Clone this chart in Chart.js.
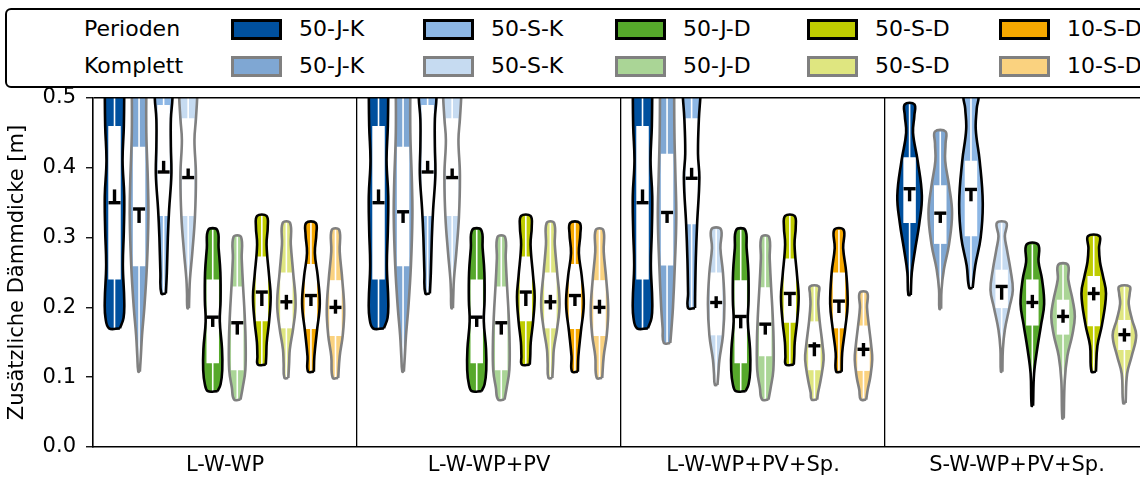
<!DOCTYPE html>
<html>
<head>
<meta charset="utf-8">
<script src="https://cdn.jsdelivr.net/npm/chart.js@4.4.1/dist/chart.umd.min.js"></script>
<style>
  html, body { margin: 0; padding: 0; background: #fff; overflow: hidden; width: 1140px; height: 481px; }
  #chart { position: absolute; left: 0; top: 0; }
  #legend { position: absolute; left: 5px; top: 8px; width: 1170px; height: 76px; border: 2px solid #000; border-radius: 6px;
            font-family: 'DejaVu Sans'; font-size: 22px; color: #000; background: #fff; z-index: 2; }
  #legend .lab { position: absolute; line-height: 22px; white-space: nowrap; }
  #legend .sw { position: absolute; width: 45px; height: 15px; border: 3px solid #000; }
</style>
</head>
<body>
<div id="legend"></div>
<canvas id="chart" width="1160" height="481"></canvas>
<script>
// Kategorien und Serien
const groups = ['L-W-WP', 'L-W-WP+PV', 'L-W-WP+PV+Sp.', 'S-W-WP+PV+Sp.'];
const series = ['50-J-K', '50-S-K', '50-J-D', '50-S-D', '10-S-D'];
const variants = ['Perioden', 'Komplett'];
const colP = ['#00509e', '#8db7e5', '#56a82b', '#bfcc00', '#f6a800'];
const colK = ['#7fa7d3', '#c6dbf1', '#aad596', '#dfe680', '#fad27f'];
const yTicks = [0, 0.1, 0.2, 0.3, 0.4, 0.5];

// Violinen je Gruppe, Reihenfolge: Serie P, Serie K, ...
// Profil: [Wert, relative Breite]
const profiles = [
  [
    [[0.17,0.55],[0.185,0.92],[0.21,0.99],[0.26,0.85],[0.31,0.95],[0.36,0.99],[0.41,0.82],[0.46,0.95],[0.52,0.99],[0.56,0.95]],
    [[0.108,0.08],[0.13,0.18],[0.16,0.3],[0.2,0.54],[0.26,0.8],[0.33,0.95],[0.38,0.9],[0.45,0.74],[0.52,0.74],[0.56,0.74]],
    [[0.22,0.23],[0.25,0.33],[0.30,0.43],[0.34,0.56],[0.39,0.79],[0.43,0.74],[0.47,0.74],[0.50,0.9],[0.56,0.95]],
    [[0.199,0.08],[0.22,0.12],[0.24,0.18],[0.28,0.43],[0.33,0.69],[0.39,0.79],[0.44,0.64],[0.47,0.79],[0.51,0.94],[0.56,0.94]],
    [[0.08,0.5],[0.09,0.8],[0.11,0.97],[0.14,0.95],[0.18,0.72],[0.21,0.8],[0.25,0.78],[0.285,0.6],[0.311,0.45]],
    [[0.068,0.33],[0.085,0.55],[0.11,0.82],[0.15,0.85],[0.19,0.75],[0.23,0.59],[0.27,0.45],[0.301,0.38]],
    [[0.118,0.4],[0.13,0.45],[0.15,0.5],[0.18,0.74],[0.215,0.9],[0.245,0.74],[0.29,0.48],[0.315,0.6],[0.331,0.48]],
    [[0.099,0.2],[0.12,0.28],[0.14,0.35],[0.17,0.69],[0.205,0.94],[0.25,0.69],[0.29,0.45],[0.321,0.38]],
    [[0.108,0.3],[0.13,0.35],[0.165,0.6],[0.205,0.9],[0.245,0.69],[0.278,0.4],[0.305,0.55],[0.321,0.48]],
    [[0.099,0.28],[0.13,0.43],[0.16,0.74],[0.197,0.89],[0.24,0.69],[0.28,0.43],[0.311,0.38]]
  ],
  [
    [[0.17,0.55],[0.185,0.92],[0.21,0.99],[0.26,0.85],[0.31,0.95],[0.36,0.99],[0.41,0.82],[0.46,0.95],[0.52,0.99],[0.56,0.95]],
    [[0.108,0.08],[0.13,0.18],[0.16,0.3],[0.2,0.54],[0.26,0.8],[0.33,0.95],[0.38,0.9],[0.45,0.74],[0.52,0.74],[0.56,0.74]],
    [[0.22,0.23],[0.25,0.33],[0.30,0.43],[0.34,0.56],[0.39,0.79],[0.43,0.74],[0.47,0.74],[0.50,0.9],[0.56,0.95]],
    [[0.199,0.08],[0.22,0.12],[0.24,0.18],[0.28,0.43],[0.33,0.69],[0.39,0.79],[0.44,0.64],[0.47,0.79],[0.51,0.94],[0.56,0.94]],
    [[0.08,0.5],[0.09,0.8],[0.11,0.97],[0.14,0.95],[0.18,0.72],[0.21,0.8],[0.25,0.78],[0.285,0.6],[0.311,0.45]],
    [[0.068,0.33],[0.085,0.55],[0.11,0.82],[0.15,0.85],[0.19,0.75],[0.23,0.59],[0.27,0.45],[0.301,0.38]],
    [[0.118,0.4],[0.13,0.45],[0.15,0.5],[0.18,0.74],[0.215,0.9],[0.245,0.74],[0.29,0.48],[0.315,0.6],[0.331,0.48]],
    [[0.099,0.2],[0.12,0.28],[0.14,0.35],[0.17,0.69],[0.205,0.94],[0.25,0.69],[0.29,0.45],[0.321,0.38]],
    [[0.108,0.3],[0.13,0.35],[0.165,0.6],[0.205,0.9],[0.245,0.69],[0.278,0.4],[0.305,0.55],[0.321,0.48]],
    [[0.099,0.28],[0.13,0.43],[0.16,0.74],[0.197,0.89],[0.24,0.69],[0.28,0.43],[0.311,0.38]]
  ],
  [
    [[0.17,0.55],[0.185,0.92],[0.21,0.99],[0.26,0.85],[0.31,0.95],[0.36,0.99],[0.41,0.82],[0.46,0.95],[0.52,0.99],[0.56,0.95]],
    [[0.149,0.33],[0.17,0.45],[0.2,0.6],[0.26,0.79],[0.33,0.94],[0.39,0.85],[0.45,0.75],[0.52,0.72],[0.56,0.72]],
    [[0.199,0.35],[0.22,0.36],[0.27,0.43],[0.32,0.56],[0.385,0.79],[0.42,0.65],[0.47,0.74],[0.51,0.92],[0.56,0.94]],
    [[0.089,0.13],[0.105,0.22],[0.125,0.33],[0.16,0.69],[0.205,0.84],[0.25,0.69],[0.285,0.43],[0.312,0.48]],
    [[0.08,0.5],[0.09,0.8],[0.11,0.97],[0.14,0.95],[0.18,0.72],[0.21,0.8],[0.25,0.78],[0.285,0.6],[0.311,0.45]],
    [[0.068,0.33],[0.085,0.55],[0.11,0.82],[0.15,0.85],[0.19,0.75],[0.23,0.59],[0.27,0.45],[0.301,0.38]],
    [[0.118,0.4],[0.13,0.45],[0.15,0.5],[0.18,0.74],[0.215,0.9],[0.245,0.74],[0.29,0.48],[0.315,0.6],[0.331,0.48]],
    [[0.068,0.28],[0.078,0.38],[0.096,0.64],[0.125,0.94],[0.145,0.84],[0.18,0.54],[0.205,0.4],[0.22,0.45],[0.23,0.45]],
    [[0.108,0.28],[0.135,0.33],[0.17,0.64],[0.205,0.89],[0.25,0.74],[0.285,0.43],[0.311,0.48]],
    [[0.068,0.28],[0.082,0.43],[0.10,0.69],[0.125,0.89],[0.145,0.79],[0.175,0.54],[0.2,0.36],[0.221,0.38]]
  ],
  [
    [[0.218,0.1],[0.25,0.18],[0.285,0.47],[0.32,0.79],[0.36,1.0],[0.41,0.66],[0.45,0.28],[0.475,0.39],[0.491,0.39]],
    [[0.198,0.07],[0.225,0.1],[0.255,0.3],[0.29,0.71],[0.335,0.96],[0.375,0.71],[0.41,0.4],[0.435,0.43],[0.452,0.43]],
    [[0.228,0.14],[0.26,0.35],[0.30,0.79],[0.35,0.96],[0.41,0.71],[0.455,0.39],[0.485,0.47],[0.505,0.55]],
    [[0.108,0.06],[0.14,0.1],[0.168,0.26],[0.2,0.63],[0.225,0.91],[0.255,0.71],[0.283,0.43],[0.302,0.26],[0.321,0.39]],
    [[0.059,0.06],[0.105,0.14],[0.14,0.39],[0.175,0.71],[0.205,0.96],[0.24,0.79],[0.265,0.51],[0.29,0.47]],
    [[0.041,0.06],[0.095,0.14],[0.13,0.35],[0.16,0.75],[0.187,0.96],[0.21,0.79],[0.24,0.43],[0.261,0.39]],
    [[0.108,0.18],[0.145,0.3],[0.175,0.67],[0.22,1.0],[0.245,0.75],[0.265,0.51],[0.285,0.43],[0.302,0.47]],
    [[0.063,0.1],[0.105,0.22],[0.13,0.59],[0.16,0.96],[0.182,0.63],[0.205,0.35],[0.22,0.43],[0.23,0.43]]
  ]
];

// Quartile (weisse Box)
const q1 = [
  [0.240, 0.259, 0.331, 0.331, 0.120, 0.110, 0.180, 0.170, 0.169, 0.159],
  [0.240, 0.259, 0.331, 0.331, 0.120, 0.110, 0.180, 0.170, 0.169, 0.159],
  [0.240, 0.260, 0.319, 0.160, 0.120, 0.130, 0.178, 0.110, 0.170, 0.109],
  [0.321, 0.291, 0.302, 0.199, 0.174, 0.161, 0.173, 0.139]
];
const q3 = [
  [0.460, 0.430, 0.490, 0.471, 0.240, 0.230, 0.273, 0.250, 0.262, 0.239],
  [0.460, 0.430, 0.490, 0.471, 0.240, 0.230, 0.273, 0.250, 0.262, 0.239],
  [0.460, 0.420, 0.471, 0.250, 0.239, 0.229, 0.270, 0.180, 0.250, 0.174],
  [0.415, 0.375, 0.410, 0.254, 0.240, 0.211, 0.245, 0.182]
];
// Markierung: waagrechter Strich und senkrechter Strich
const median = [
  [0.350, 0.341, 0.394, 0.386, 0.186, 0.178, 0.222, 0.208, 0.217, 0.200],
  [0.350, 0.337, 0.394, 0.386, 0.186, 0.178, 0.222, 0.208, 0.217, 0.200],
  [0.350, 0.336, 0.385, 0.207, 0.187, 0.176, 0.220, 0.145, 0.209, 0.140],
  [0.370, 0.335, 0.369, 0.230, 0.207, 0.187, 0.220, 0.161]
];
const tickLo = [
  [0.350, 0.321, 0.394, 0.386, 0.172, 0.161, 0.202, 0.197, 0.202, 0.191],
  [0.350, 0.321, 0.394, 0.386, 0.172, 0.161, 0.202, 0.197, 0.202, 0.191],
  [0.350, 0.321, 0.385, 0.199, 0.170, 0.161, 0.202, 0.130, 0.192, 0.130],
  [0.352, 0.321, 0.352, 0.211, 0.199, 0.178, 0.210, 0.151]
];
const tickHi = [
  [0.369, 0.341, 0.410, 0.399, 0.186, 0.178, 0.222, 0.218, 0.217, 0.211],
  [0.369, 0.337, 0.410, 0.399, 0.186, 0.178, 0.222, 0.218, 0.217, 0.211],
  [0.369, 0.336, 0.400, 0.216, 0.187, 0.176, 0.220, 0.150, 0.209, 0.149],
  [0.370, 0.335, 0.369, 0.230, 0.218, 0.197, 0.229, 0.170]
];

// Legende (HTML)
const legend = document.getElementById('legend');
variants.forEach((v, r) => {
  const top = 9 + r * 37;
  const lab = document.createElement('span');
  lab.className = 'lab';
  lab.textContent = v;
  lab.style.left = '77px';
  lab.style.top = (top - 1) + 'px';
  legend.appendChild(lab);
  series.forEach((s, i) => {
    const sw = document.createElement('div');
    sw.className = 'sw';
    sw.style.left = (224 + i * 192) + 'px';
    sw.style.top = top + 'px';
    sw.style.background = r ? colK[i] : colP[i];
    sw.style.borderColor = r ? '#808080' : '#000';
    legend.appendChild(sw);
    const t = document.createElement('span');
    t.className = 'lab';
    t.textContent = s;
    t.style.left = (292 + i * 192) + 'px';
    t.style.top = (top - 1) + 'px';
    legend.appendChild(t);
  });
});

// Datensaetze aufbauen
const datasets = [];
const whiskers = [], boxes = [], ticks = [], meds = [];

profiles.forEach((grp, gi) => {
  const n = grp.length;
  const step = 0.93 / n;
  const hw = 0.4 * step;
  grp.forEach((prof, j) => {
    const s = Math.floor(j / 2), k = j % 2;
    const c = gi + 0.5 + (j - (n - 1) / 2) * step;
    const right = prof.map(([y, w]) => ({ x: c + w * hw, y: y }));
    const left = prof.slice().reverse().map(([y, w]) => ({ x: c - w * hw, y: y }));
    const pts = right.concat(left, [right[0]]);
    datasets.push({
      type: 'line', data: pts, fill: 'shape', backgroundColor: k ? colK[s] : colP[s],
      borderColor: 'rgba(0,0,0,0)', borderWidth: 0, pointRadius: 0, tension: 0.4, order: 50, clip: 0
    });
    datasets.push({
      type: 'line', data: pts, fill: false, borderColor: k ? '#808080' : '#000',
      borderWidth: 2.6, borderJoinStyle: 'round', pointRadius: 0, tension: 0.4, order: 20, clip: 0
    });
    whiskers.push({ x: c, y: [prof[0][0], prof[prof.length - 1][0]] });
    boxes.push({ x: c, y: [q1[gi][j], q3[gi][j]] });
    ticks.push({ x: c, y: [tickLo[gi][j], tickHi[gi][j]] });
    meds.push({ x: c, y: median[gi][j] });
  });
});

datasets.push({ type: 'bar', data: whiskers, backgroundColor: '#fff', barThickness: 1.6, grouped: false, inflateAmount: 0, order: 40, clip: 0 });
datasets.push({ type: 'bar', data: boxes, backgroundColor: '#fff', barThickness: 12.5, grouped: false, inflateAmount: 0, order: 30, clip: 0 });
datasets.push({ type: 'bar', data: ticks, backgroundColor: '#000', barThickness: 3.4, grouped: false, inflateAmount: 0, order: 10, clip: 0 });
datasets.push({
  type: 'line', data: meds, showLine: false, pointStyle: 'line', pointRadius: 6,
  pointBorderWidth: 3.4, pointBorderColor: '#000', order: 0
});

Chart.defaults.font.family = "'DejaVu Sans'";
Chart.defaults.color = '#000';

const xTickValues = [0, 0.5, 1, 1.5, 2, 2.5, 3, 3.5, 4];

new Chart(document.getElementById('chart'), {
  type: 'line',
  data: { datasets: datasets },
  options: {
    responsive: false,
    animation: false,
    events: [],
    layout: { padding: { top: 98, right: 11, bottom: 0, left: 0 } },
    elements: { line: { capBezierPoints: false } },
    plugins: { legend: { display: false }, tooltip: { enabled: false } },
    scales: {
      x: {
        type: 'linear', min: 0, max: 4, offset: false,
        afterBuildTicks: (s) => { s.ticks = xTickValues.map(v => ({ value: v })); },
        afterFit: (s) => { s.height = 34; },
        ticks: {
          autoSkip: false, maxRotation: 0, padding: 6, font: { size: 21 },
          callback: (v) => Number.isInteger(v) ? '' : groups[Math.floor(v)]
        },
        grid: {
          offset: false, drawTicks: false, z: 1, lineWidth: 1.3,
          color: (ctx) => (ctx.tick && Number.isInteger(ctx.tick.value) && ctx.tick.value > 0) ? '#000' : 'rgba(0,0,0,0)'
        },
        border: { display: true, color: '#000', width: 1.6, z: 1 }
      },
      y: {
        type: 'linear', min: 0, max: 0.5,
        afterBuildTicks: (s) => { s.ticks = yTicks.map(v => ({ value: v })); },
        afterFit: (s) => { s.width = 93; },
        ticks: { padding: 10, font: { size: 21 }, callback: (v) => v.toFixed(1) },
        grid: {
          z: 1, lineWidth: 1.5, tickLength: 7, tickColor: '#000', tickWidth: 1.3,
          color: (ctx) => (ctx.tick && Math.abs(ctx.tick.value - 0.5) < 1e-6) ? '#000' : 'rgba(0,0,0,0)'
        },
        border: { display: true, color: '#000', width: 1.6, z: 1 },
        title: { display: true, text: 'Zusätzliche Dämmdicke [m]', font: { size: 21 }, padding: { top: 5, bottom: 0 } }
      }
    }
  }
});
</script>
</body>
</html>
